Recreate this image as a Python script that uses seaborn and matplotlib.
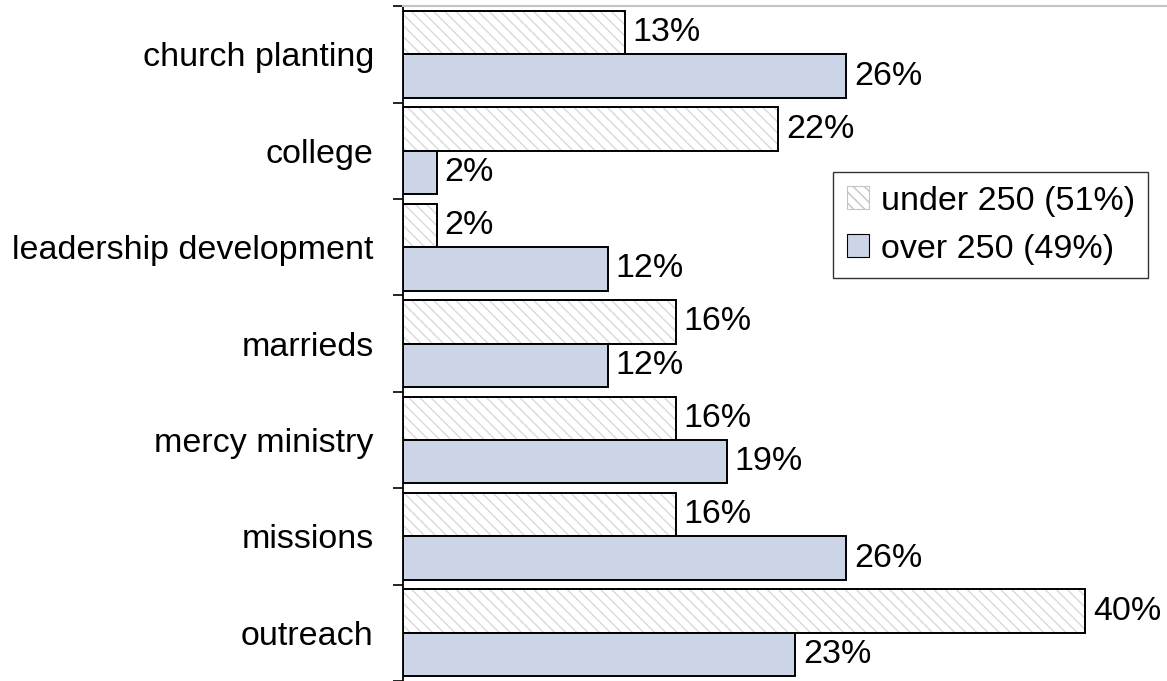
import matplotlib
matplotlib.use("Agg")
import matplotlib.pyplot as plt
import seaborn as sns
import pandas as pd
import numpy as np
from matplotlib.patches import Patch, Rectangle

categories = ["church planting", "college", "leadership development", "marrieds",
              "mercy ministry", "missions", "outreach"]
under_250 = [13, 22, 2, 16, 16, 16, 40]
over_250 = [26, 2, 12, 12, 19, 26, 23]
series = ["under 250 (51%)", "over 250 (49%)"]

df = pd.DataFrame({
    "category": categories * 2,
    "value": under_250 + over_250,
    "group": [series[0]] * len(categories) + [series[1]] * len(categories),
})

sns.set_theme(style="white")
plt.rcParams["font.family"] = ["Liberation Sans", "DejaVu Sans"]
plt.rcParams["text.color"] = "black"
FS = 24.5

fig = plt.figure(figsize=(11.67, 6.81), dpi=100)
ax = fig.add_axes([0.3453, 0.0, 0.6547, 0.991])

over_color = "#CCD5E8"
sns.barplot(data=df, y="category", x="value", hue="group", orient="h",
            palette=["white", over_color], width=0.9, ax=ax, legend=False,
            edgecolor="black", linewidth=1.4, saturation=1)

hatch_col = "#D9D9D9"
n = len(categories)
bars = [p for p in ax.patches if isinstance(p, Rectangle)][:2 * n]
for i, p in enumerate(bars):
    if i < n:
        x0, y0 = p.get_x(), p.get_y()
        w, h = p.get_width(), p.get_height()
        hp = Rectangle((x0, y0), w, h, facecolor="white", edgecolor=hatch_col,
                       hatch="\\\\\\", linewidth=0, zorder=p.get_zorder() - 0.1)
        ax.add_patch(hp)
        p.set_facecolor("none")

for i, p in enumerate(bars):
    w = p.get_width()
    ax.text(w + 0.45, p.get_y() + p.get_height() / 2, f"{int(round(w))}%",
            va="center", ha="left", fontsize=FS, color="black")

ax.set_xlim(0, 44.8)
ax.set_ylim(n - 0.5, -0.5)
ax.set_xlabel("")
ax.set_ylabel("")
ax.set_xticks([])
ax.tick_params(axis="y", which="major", left=False, length=0, pad=21,
               labelsize=FS, labelcolor="black")
ax.set_yticks(np.arange(-0.5, n, 1.0), minor=True)
ax.tick_params(axis="y", which="minor", left=True, length=7.5, width=1.2,
               color="black", direction="out")

for s in ["right", "bottom"]:
    ax.spines[s].set_visible(False)
ax.spines["left"].set_color("black")
ax.spines["left"].set_linewidth(1.3)
ax.spines["top"].set_color("#C8C4C0")
ax.spines["top"].set_linewidth(1.5)

handles = [
    Patch(facecolor="white", edgecolor="#C4C4C4", hatch="\\\\\\", linewidth=0.8),
    Patch(facecolor=over_color, edgecolor="black", linewidth=0.8),
]
leg = ax.legend(handles, series, loc="upper left", bbox_to_anchor=(0.5628, 0.754),
                fontsize=FS, frameon=True, fancybox=False, handlelength=0.65,
                handleheight=0.65, handletextpad=0.35, borderpad=0.4,
                labelspacing=0.5, borderaxespad=0, labelcolor="black")
leg.get_frame().set_edgecolor("black")
leg.get_frame().set_linewidth(1.0)

fig.savefig("out.png", dpi=100)
